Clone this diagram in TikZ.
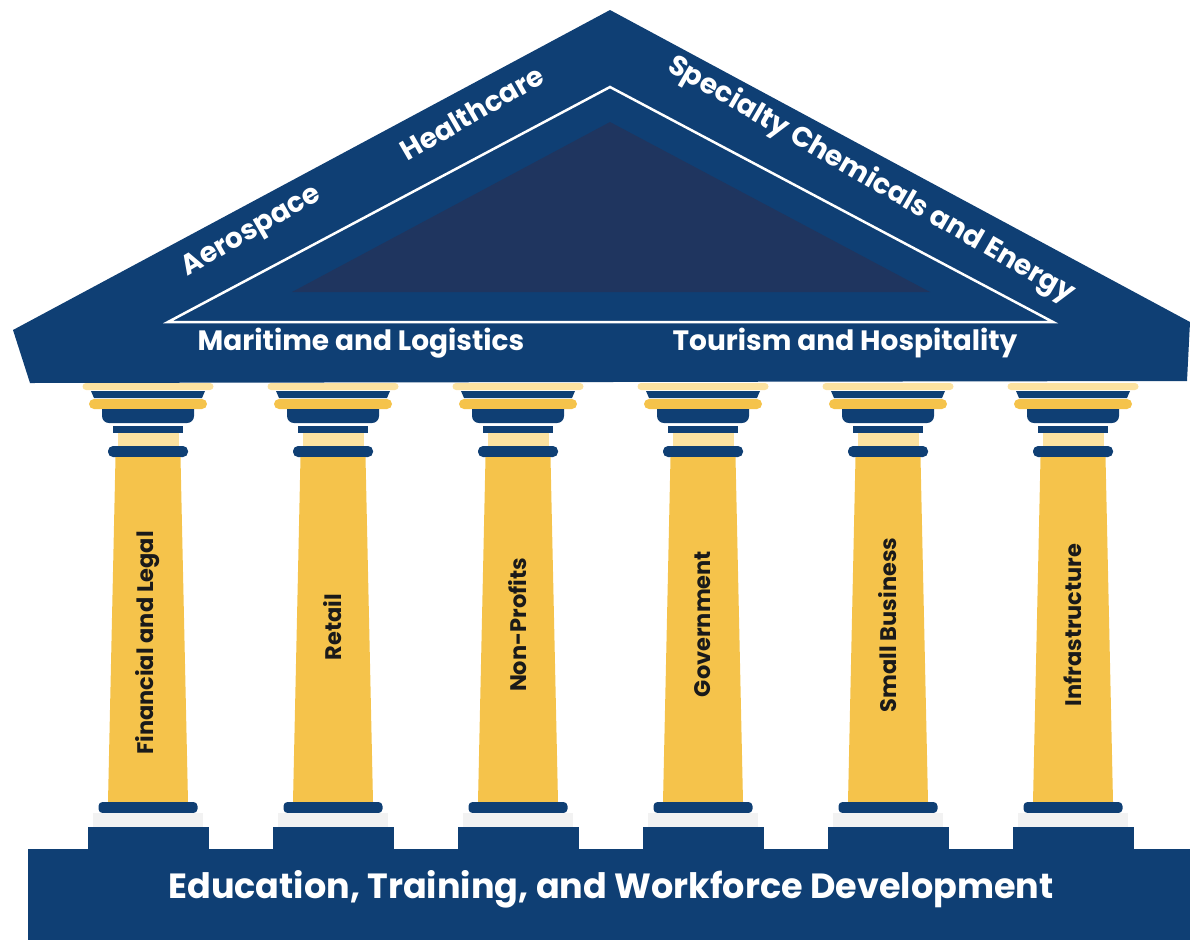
\documentclass[tikz,border=0pt]{standalone}
\usepackage{fontspec}
\setmainfont{Poppins}
\usepackage{tikz}
\definecolor{roofnavy}{RGB}{15, 63, 116}
\definecolor{gablenavy}{RGB}{31, 53, 95}
\definecolor{pillargold}{RGB}{245, 195, 75}
\definecolor{palegold}{RGB}{252, 226, 160}
\definecolor{plinthgray}{RGB}{242, 242, 242}
\definecolor{labelblack}{RGB}{26, 26, 26}

\begin{document}
\begin{tikzpicture}[
    x=1pt, y=-1pt,
    rooflabel/.style={text=white, font=\bfseries\fontsize{28}{32}\selectfont, inner sep=0pt},
    pillarlabel/.style={text=labelblack, font=\bfseries\fontsize{22.5}{26}\selectfont, rotate=90, inner sep=0pt},
    pillar/.pic={
        % capital
        \fill[palegold, rounded corners=3.5] (-65.5,0) rectangle (65.5,7);
        \fill[roofnavy] (-57,8) -- (57,8) -- (54,15) -- (-54,15) -- cycle;
        \fill[pillargold, rounded corners=5] (-59,16) rectangle (59,26);
        \fill[roofnavy] (46,26) -- (-46,26) [rounded corners=7] -- (-46,40) -- (46,40) [sharp corners] -- cycle;
        \fill[roofnavy] (-35,43) rectangle (35,50);
        \fill[palegold] (-30.5,50) rectangle (30.5,63);
        \fill[roofnavy, rounded corners=5] (-40,63) rectangle (40,74);
        % shaft
        \fill[pillargold] (-32.5,74) -- (32.5,74) -- (40,419) -- (-40,419) -- cycle;
        % foot
        \fill[roofnavy, rounded corners=4] (-49.5,419) rectangle (49.5,430);
        \fill[plinthgray] (-55,430) rectangle (55,444);
        \fill[roofnavy] (-60.5,444) rectangle (60.5,467);
    }
]
    \useasboundingbox (0,0) rectangle (1190,940);

    % Roof
    \fill[roofnavy] (13,330) -- (610,10) -- (1190,322) -- (1187,381) -- (30,383) -- cycle;
    \fill[gablenavy] (292,292) -- (610,122) -- (930,292) -- cycle;
    \draw[white, line width=2.5pt, line join=miter] (168,322) -- (610,87) -- (1053,322) -- cycle;

    % Foundation
    \fill[roofnavy] (28,849) rectangle (1190,940);

    % Pillars
    \pic at (148,383) {pillar};
    \pic at (333,383) {pillar};
    \pic at (518,383) {pillar};
    \pic at (703,383) {pillar};
    \pic at (888,383) {pillar};
    \pic at (1073,383) {pillar};

    % Roof labels
    \node[rooflabel, rotate=30] (aero) at (252,232) {Aerospace};
    \node[rooflabel, rotate=30] (health) at (472,113) {Healthcare};
    \node[rooflabel, rotate=-30] (chem) at (871,180) {Specialty Chemicals and Energy};
    \node[rooflabel] (mari) at (361,343) {Maritime and Logistics};
    \node[rooflabel] (tour) at (845,343) {Tourism and Hospitality};

    % Pillar labels
    \node[pillarlabel] (fin) at (148,643) {Financial and Legal};
    \node[pillarlabel] (retail) at (333,627) {Retail};
    \node[pillarlabel] (nonprof) at (518,625) {Non-Profits};
    \node[pillarlabel] (gov) at (703,624) {Government};
    \node[pillarlabel] (smallbiz) at (888,625) {Small Business};
    \node[pillarlabel] (infra) at (1073,625) {Infrastructure};

    % Foundation label
    \node[rooflabel, font=\bfseries\fontsize{35}{40}\selectfont] (edu) at (611,889) {Education, Training, and Workforce Development};
\end{tikzpicture}
\end{document}
